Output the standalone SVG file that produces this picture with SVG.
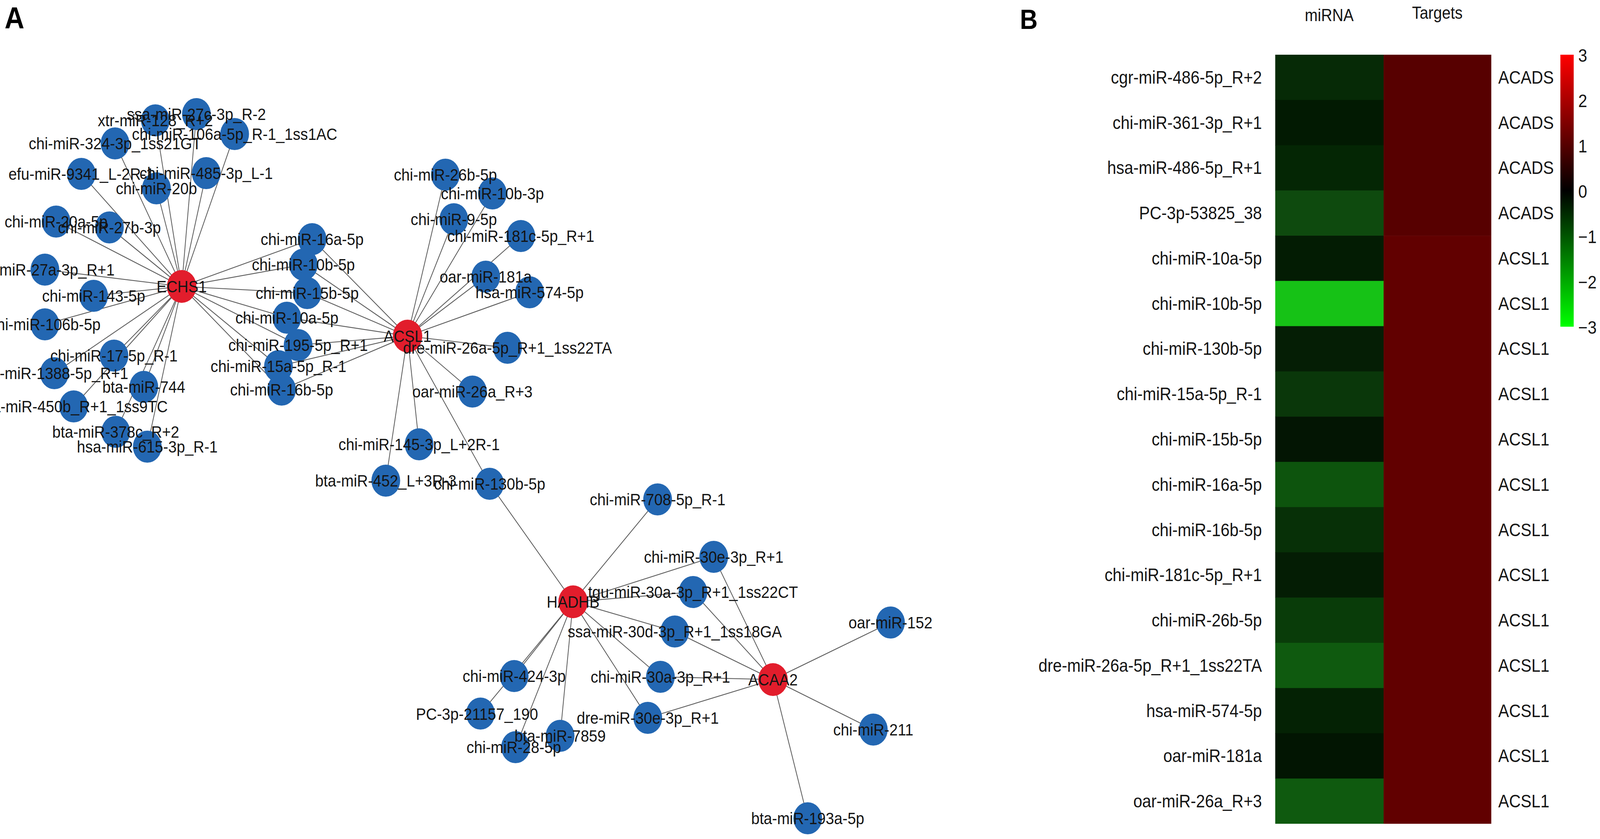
<svg xmlns="http://www.w3.org/2000/svg" width="4562" height="2147" viewBox="0 0 4562 2147" preserveAspectRatio="none">
<defs>
<style>
svg{width:100vw;height:100vh}
.edge{stroke:#5a5a5a;stroke-width:2.2;fill:none}
.mir{fill:#2367B2}
.gene{fill:#E21D2C}
.lbl{font-family:"Liberation Sans",Arial,sans-serif;font-size:43px;fill:#141414;text-anchor:middle}
.panel{font-family:"Liberation Sans",Arial,sans-serif;font-weight:bold;fill:#000}
.hm{font-family:"Liberation Sans",Arial,sans-serif;font-size:46px;fill:#141414}
.rl{text-anchor:end}
.hd{font-size:44px;text-anchor:middle}
</style>
<linearGradient id="cbar" x1="0" y1="0" x2="0" y2="1">
<stop offset="0" stop-color="#FF0000"/>
<stop offset="0.5" stop-color="#000000"/>
<stop offset="1" stop-color="#00FF00"/>
</linearGradient>
</defs>
<rect width="4562" height="2147" fill="#fff"/>
<text class="panel" x="13" y="73" font-size="78">A</text>
<text class="panel" x="2908" y="74" font-size="70">B</text>

<g id="connectors">
<line class="edge" x1="518" y1="733" x2="560" y2="292"/>
<line class="edge" x1="518" y1="733" x2="443" y2="308"/>
<line class="edge" x1="518" y1="733" x2="669" y2="343"/>
<line class="edge" x1="518" y1="733" x2="328" y2="367"/>
<line class="edge" x1="518" y1="733" x2="232" y2="445"/>
<line class="edge" x1="518" y1="733" x2="588" y2="443"/>
<line class="edge" x1="518" y1="733" x2="446" y2="482"/>
<line class="edge" x1="518" y1="733" x2="160" y2="567"/>
<line class="edge" x1="518" y1="733" x2="312" y2="582"/>
<line class="edge" x1="518" y1="733" x2="128" y2="690"/>
<line class="edge" x1="518" y1="733" x2="267" y2="757"/>
<line class="edge" x1="518" y1="733" x2="128" y2="830"/>
<line class="edge" x1="518" y1="733" x2="325" y2="910"/>
<line class="edge" x1="518" y1="733" x2="155" y2="955"/>
<line class="edge" x1="518" y1="733" x2="410" y2="990"/>
<line class="edge" x1="518" y1="733" x2="210" y2="1040"/>
<line class="edge" x1="518" y1="733" x2="330" y2="1105"/>
<line class="edge" x1="518" y1="733" x2="420" y2="1143"/>
<line class="edge" x1="518" y1="733" x2="890" y2="612"/>
<line class="edge" x1="518" y1="733" x2="865" y2="677"/>
<line class="edge" x1="518" y1="733" x2="876" y2="750"/>
<line class="edge" x1="518" y1="733" x2="818" y2="813"/>
<line class="edge" x1="518" y1="733" x2="850" y2="883"/>
<line class="edge" x1="518" y1="733" x2="794" y2="937"/>
<line class="edge" x1="518" y1="733" x2="803" y2="997"/>
<line class="edge" x1="1162" y1="860" x2="890" y2="612"/>
<line class="edge" x1="1162" y1="860" x2="865" y2="677"/>
<line class="edge" x1="1162" y1="860" x2="876" y2="750"/>
<line class="edge" x1="1162" y1="860" x2="818" y2="813"/>
<line class="edge" x1="1162" y1="860" x2="850" y2="883"/>
<line class="edge" x1="1162" y1="860" x2="794" y2="937"/>
<line class="edge" x1="1162" y1="860" x2="803" y2="997"/>
<line class="edge" x1="1162" y1="860" x2="1270" y2="447"/>
<line class="edge" x1="1162" y1="860" x2="1404" y2="495"/>
<line class="edge" x1="1162" y1="860" x2="1294" y2="561"/>
<line class="edge" x1="1162" y1="860" x2="1485" y2="604"/>
<line class="edge" x1="1162" y1="860" x2="1385" y2="708"/>
<line class="edge" x1="1162" y1="860" x2="1510" y2="748"/>
<line class="edge" x1="1162" y1="860" x2="1447" y2="890"/>
<line class="edge" x1="1162" y1="860" x2="1347" y2="1002"/>
<line class="edge" x1="1162" y1="860" x2="1195" y2="1137"/>
<line class="edge" x1="1162" y1="860" x2="1100" y2="1230"/>
<line class="edge" x1="1162" y1="860" x2="1396" y2="1238"/>
<line class="edge" x1="1634" y1="1540" x2="1396" y2="1238"/>
<line class="edge" x1="1634" y1="1540" x2="1875" y2="1278"/>
<line class="edge" x1="1634" y1="1540" x2="2035" y2="1425"/>
<line class="edge" x1="1634" y1="1540" x2="1976" y2="1515"/>
<line class="edge" x1="1634" y1="1540" x2="1924" y2="1616"/>
<line class="edge" x1="1634" y1="1540" x2="1466" y2="1730"/>
<line class="edge" x1="1634" y1="1540" x2="1370" y2="1826"/>
<line class="edge" x1="1634" y1="1540" x2="1470" y2="1912"/>
<line class="edge" x1="1634" y1="1540" x2="1597" y2="1883"/>
<line class="edge" x1="1634" y1="1540" x2="1883" y2="1732"/>
<line class="edge" x1="1634" y1="1540" x2="1847" y2="1837"/>
<line class="edge" x1="2204" y1="1739" x2="2035" y2="1425"/>
<line class="edge" x1="2204" y1="1739" x2="1976" y2="1515"/>
<line class="edge" x1="2204" y1="1739" x2="1924" y2="1616"/>
<line class="edge" x1="2204" y1="1739" x2="1883" y2="1732"/>
<line class="edge" x1="2204" y1="1739" x2="1847" y2="1837"/>
<line class="edge" x1="2204" y1="1739" x2="2539" y2="1593"/>
<line class="edge" x1="2204" y1="1739" x2="2490" y2="1867"/>
<line class="edge" x1="2204" y1="1739" x2="2303" y2="2094"/>
</g>

<g id="nodes">
<g id="n-ssa-miR-27c-3p"><circle class="mir" cx="560" cy="292" r="41"/></g>
<g id="n-xtr-miR-128"><circle class="mir" cx="443" cy="308" r="41"/></g>
<g id="n-chi-miR-106a-5p"><circle class="mir" cx="669" cy="343" r="41"/></g>
<g id="n-chi-miR-324-3p"><circle class="mir" cx="328" cy="367" r="41"/></g>
<g id="n-efu-miR-9341"><circle class="mir" cx="232" cy="445" r="41"/></g>
<g id="n-chi-miR-485-3p"><circle class="mir" cx="588" cy="443" r="41"/></g>
<g id="n-chi-miR-20b"><circle class="mir" cx="446" cy="482" r="41"/></g>
<g id="n-chi-miR-20a-5p"><circle class="mir" cx="160" cy="567" r="41"/></g>
<g id="n-chi-miR-27b-3p"><circle class="mir" cx="312" cy="582" r="41"/></g>
<g id="n-chi-miR-27a-3p"><circle class="mir" cx="128" cy="690" r="41"/></g>
<g id="n-chi-miR-143-5p"><circle class="mir" cx="267" cy="757" r="41"/></g>
<g id="n-chi-miR-106b-5p"><circle class="mir" cx="128" cy="830" r="41"/></g>
<g id="n-chi-miR-17-5p"><circle class="mir" cx="325" cy="910" r="41"/></g>
<g id="n-chi-miR-1388-5p"><circle class="mir" cx="155" cy="955" r="41"/></g>
<g id="n-bta-miR-744"><circle class="mir" cx="410" cy="990" r="41"/></g>
<g id="n-bta-miR-450b"><circle class="mir" cx="210" cy="1040" r="41"/></g>
<g id="n-bta-miR-378"><circle class="mir" cx="330" cy="1105" r="41"/></g>
<g id="n-hsa-miR-615-3p"><circle class="mir" cx="420" cy="1143" r="41"/></g>
<g id="n-chi-miR-16a-5p"><circle class="mir" cx="890" cy="612" r="41"/></g>
<g id="n-chi-miR-10b-5p"><circle class="mir" cx="865" cy="677" r="41"/></g>
<g id="n-chi-miR-15b-5p"><circle class="mir" cx="876" cy="750" r="41"/></g>
<g id="n-chi-miR-10a-5p"><circle class="mir" cx="818" cy="813" r="41"/></g>
<g id="n-chi-miR-195-5p"><circle class="mir" cx="850" cy="883" r="41"/></g>
<g id="n-chi-miR-15a-5p"><circle class="mir" cx="794" cy="937" r="41"/></g>
<g id="n-chi-miR-16b-5p"><circle class="mir" cx="803" cy="997" r="41"/></g>
<g id="n-chi-miR-26b-5p"><circle class="mir" cx="1270" cy="447" r="41"/></g>
<g id="n-chi-miR-10b-3p"><circle class="mir" cx="1404" cy="495" r="41"/></g>
<g id="n-chi-miR-9-5p"><circle class="mir" cx="1294" cy="561" r="41"/></g>
<g id="n-chi-miR-181c-5p"><circle class="mir" cx="1485" cy="604" r="41"/></g>
<g id="n-oar-miR-181a"><circle class="mir" cx="1385" cy="708" r="41"/></g>
<g id="n-hsa-miR-574-5p"><circle class="mir" cx="1510" cy="748" r="41"/></g>
<g id="n-dre-miR-26a-5p"><circle class="mir" cx="1447" cy="890" r="41"/></g>
<g id="n-oar-miR-26a"><circle class="mir" cx="1347" cy="1002" r="41"/></g>
<g id="n-chi-miR-145-3p"><circle class="mir" cx="1195" cy="1137" r="41"/></g>
<g id="n-bta-miR-452"><circle class="mir" cx="1100" cy="1230" r="41"/></g>
<g id="n-chi-miR-130b-5p"><circle class="mir" cx="1396" cy="1238" r="41"/></g>
<g id="n-chi-miR-708-5p"><circle class="mir" cx="1875" cy="1278" r="41"/></g>
<g id="n-chi-miR-30e-3p"><circle class="mir" cx="2035" cy="1425" r="41"/></g>
<g id="n-tgu-miR-30a-3p"><circle class="mir" cx="1976" cy="1515" r="41"/></g>
<g id="n-ssa-miR-30d-3p"><circle class="mir" cx="1924" cy="1616" r="41"/></g>
<g id="n-chi-miR-424-3p"><circle class="mir" cx="1466" cy="1730" r="41"/></g>
<g id="n-PC-3p-21157"><circle class="mir" cx="1370" cy="1826" r="41"/></g>
<g id="n-chi-miR-28-5p"><circle class="mir" cx="1470" cy="1912" r="41"/></g>
<g id="n-bta-miR-7859"><circle class="mir" cx="1597" cy="1883" r="41"/></g>
<g id="n-chi-miR-30a-3p"><circle class="mir" cx="1883" cy="1732" r="41"/></g>
<g id="n-dre-miR-30e-3p"><circle class="mir" cx="1847" cy="1837" r="41"/></g>
<g id="n-oar-miR-152"><circle class="mir" cx="2539" cy="1593" r="41"/></g>
<g id="n-chi-miR-211"><circle class="mir" cx="2490" cy="1867" r="41"/></g>
<g id="n-bta-miR-193a-5p"><circle class="mir" cx="2303" cy="2094" r="41"/></g>
<g id="n-ECHS1"><circle class="gene" cx="518" cy="733" r="42"/></g>
<g id="n-ACSL1"><circle class="gene" cx="1162" cy="860" r="42"/></g>
<g id="n-HADHB"><circle class="gene" cx="1634" cy="1540" r="42"/></g>
<g id="n-ACAA2"><circle class="gene" cx="2204" cy="1739" r="42"/></g>
</g>

<g id="node-labels" class="lbl">
<text x="560" y="307">ssa-miR-27c-3p_R-2</text>
<text x="443" y="323">xtr-miR-128_R+2</text>
<text x="669" y="358">chi-miR-106a-5p_R-1_1ss1AC</text>
<text x="328" y="382">chi-miR-324-3p_1ss21GT</text>
<text x="232" y="460">efu-miR-9341_L-2R-1</text>
<text x="588" y="458">chi-miR-485-3p_L-1</text>
<text x="446" y="497">chi-miR-20b</text>
<text x="160" y="582">chi-miR-20a-5p</text>
<text x="312" y="597">chi-miR-27b-3p</text>
<text x="128" y="705">chi-miR-27a-3p_R+1</text>
<text x="267" y="772">chi-miR-143-5p</text>
<text x="128" y="845">chi-miR-106b-5p</text>
<text x="325" y="925">chi-miR-17-5p_R-1</text>
<text x="155" y="970">chi-miR-1388-5p_R+1</text>
<text x="410" y="1005">bta-miR-744</text>
<text x="210" y="1055">bta-miR-450b_R+1_1ss9TC</text>
<text x="330" y="1120">bta-miR-378c_R+2</text>
<text x="420" y="1158">hsa-miR-615-3p_R-1</text>
<text x="890" y="627">chi-miR-16a-5p</text>
<text x="865" y="692">chi-miR-10b-5p</text>
<text x="876" y="765">chi-miR-15b-5p</text>
<text x="818" y="828">chi-miR-10a-5p</text>
<text x="850" y="898">chi-miR-195-5p_R+1</text>
<text x="794" y="952">chi-miR-15a-5p_R-1</text>
<text x="803" y="1012">chi-miR-16b-5p</text>
<text x="1270" y="462">chi-miR-26b-5p</text>
<text x="1404" y="510">chi-miR-10b-3p</text>
<text x="1294" y="576">chi-miR-9-5p</text>
<text x="1485" y="619">chi-miR-181c-5p_R+1</text>
<text x="1385" y="723">oar-miR-181a</text>
<text x="1510" y="763">hsa-miR-574-5p</text>
<text x="1447" y="905">dre-miR-26a-5p_R+1_1ss22TA</text>
<text x="1347" y="1017">oar-miR-26a_R+3</text>
<text x="1195" y="1152">chi-miR-145-3p_L+2R-1</text>
<text x="1100" y="1245">bta-miR-452_L+3R-3</text>
<text x="1396" y="1253">chi-miR-130b-5p</text>
<text x="1875" y="1293">chi-miR-708-5p_R-1</text>
<text x="2035" y="1440">chi-miR-30e-3p_R+1</text>
<text x="1976" y="1530">tgu-miR-30a-3p_R+1_1ss22CT</text>
<text x="1924" y="1631">ssa-miR-30d-3p_R+1_1ss18GA</text>
<text x="1466" y="1745">chi-miR-424-3p</text>
<text x="1360" y="1842">PC-3p-21157_190</text>
<text x="1465" y="1927">chi-miR-28-5p</text>
<text x="1597" y="1898">bta-miR-7859</text>
<text x="1883" y="1747">chi-miR-30a-3p_R+1</text>
<text x="1847" y="1852">dre-miR-30e-3p_R+1</text>
<text x="2539" y="1608">oar-miR-152</text>
<text x="2490" y="1882">chi-miR-211</text>
<text x="2303" y="2109">bta-miR-193a-5p</text>
<text x="518" y="748">ECHS1</text>
<text x="1162" y="875">ACSL1</text>
<text x="1634" y="1555">HADHB</text>
<text x="2204" y="1754">ACAA2</text>
</g>

<g id="heatmap">
<text class="hm hd" x="3790" y="54">miRNA</text>
<text class="hm hd" x="4098" y="48">Targets</text>
<g id="hm-mirna">
<rect x="3636" y="140" width="309" height="116.5" fill="#062a06"/>
<rect x="3636" y="255.76" width="309" height="116.5" fill="#021a02"/>
<rect x="3636" y="371.53" width="309" height="116.5" fill="#042604"/>
<rect x="3636" y="487.29" width="309" height="116.5" fill="#0e4a0e"/>
<rect x="3636" y="603.06" width="309" height="116.5" fill="#031c03"/>
<rect x="3636" y="718.82" width="309" height="116.5" fill="#16c216"/>
<rect x="3636" y="834.59" width="309" height="116.5" fill="#051e05"/>
<rect x="3636" y="950.35" width="309" height="116.5" fill="#0a370a"/>
<rect x="3636" y="1066.12" width="309" height="116.5" fill="#031503"/>
<rect x="3636" y="1181.88" width="309" height="116.5" fill="#0d540d"/>
<rect x="3636" y="1297.65" width="309" height="116.5" fill="#073007"/>
<rect x="3636" y="1413.41" width="309" height="116.5" fill="#041d04"/>
<rect x="3636" y="1529.18" width="309" height="116.5" fill="#093c09"/>
<rect x="3636" y="1644.94" width="309" height="116.5" fill="#0f5a0f"/>
<rect x="3636" y="1760.71" width="309" height="116.5" fill="#042204"/>
<rect x="3636" y="1876.47" width="309" height="116.5" fill="#021502"/>
<rect x="3636" y="1992.24" width="309" height="115.76" fill="#0f5a0f"/>
</g>
<g id="hm-targets">
<rect x="3945" y="140" width="307" height="463.06" fill="#570000"/>
<rect x="3945" y="603.06" width="307" height="1504.94" fill="#610000"/>
</g>
<g id="hm-rowlabels" class="hm rl">
<text x="3598" y="214">cgr-miR-486-5p_R+2</text>
<text x="3598" y="330">chi-miR-361-3p_R+1</text>
<text x="3598" y="445">hsa-miR-486-5p_R+1</text>
<text x="3598" y="561">PC-3p-53825_38</text>
<text x="3598" y="677">chi-miR-10a-5p</text>
<text x="3598" y="793">chi-miR-10b-5p</text>
<text x="3598" y="908">chi-miR-130b-5p</text>
<text x="3598" y="1024">chi-miR-15a-5p_R-1</text>
<text x="3598" y="1140">chi-miR-15b-5p</text>
<text x="3598" y="1256">chi-miR-16a-5p</text>
<text x="3598" y="1372">chi-miR-16b-5p</text>
<text x="3598" y="1487">chi-miR-181c-5p_R+1</text>
<text x="3598" y="1603">chi-miR-26b-5p</text>
<text x="3598" y="1719">dre-miR-26a-5p_R+1_1ss22TA</text>
<text x="3598" y="1835">hsa-miR-574-5p</text>
<text x="3598" y="1950">oar-miR-181a</text>
<text x="3598" y="2066">oar-miR-26a_R+3</text>
</g>
<g id="hm-targetlabels" class="hm">
<text x="4272" y="214">ACADS</text>
<text x="4272" y="330">ACADS</text>
<text x="4272" y="445">ACADS</text>
<text x="4272" y="561">ACADS</text>
<text x="4272" y="677">ACSL1</text>
<text x="4272" y="793">ACSL1</text>
<text x="4272" y="908">ACSL1</text>
<text x="4272" y="1024">ACSL1</text>
<text x="4272" y="1140">ACSL1</text>
<text x="4272" y="1256">ACSL1</text>
<text x="4272" y="1372">ACSL1</text>
<text x="4272" y="1487">ACSL1</text>
<text x="4272" y="1603">ACSL1</text>
<text x="4272" y="1719">ACSL1</text>
<text x="4272" y="1835">ACSL1</text>
<text x="4272" y="1950">ACSL1</text>
<text x="4272" y="2066">ACSL1</text>
</g>
<g id="colorbar">
<rect x="4449" y="140" width="38" height="696" fill="url(#cbar)"/>
<g class="hm">
<text x="4500" y="158">3</text>
<text x="4500" y="274">2</text>
<text x="4500" y="390">1</text>
<text x="4500" y="506">0</text>
<text x="4500" y="622">−1</text>
<text x="4500" y="738">−2</text>
<text x="4500" y="854">−3</text>
</g>
</g>
</g>
</svg>
